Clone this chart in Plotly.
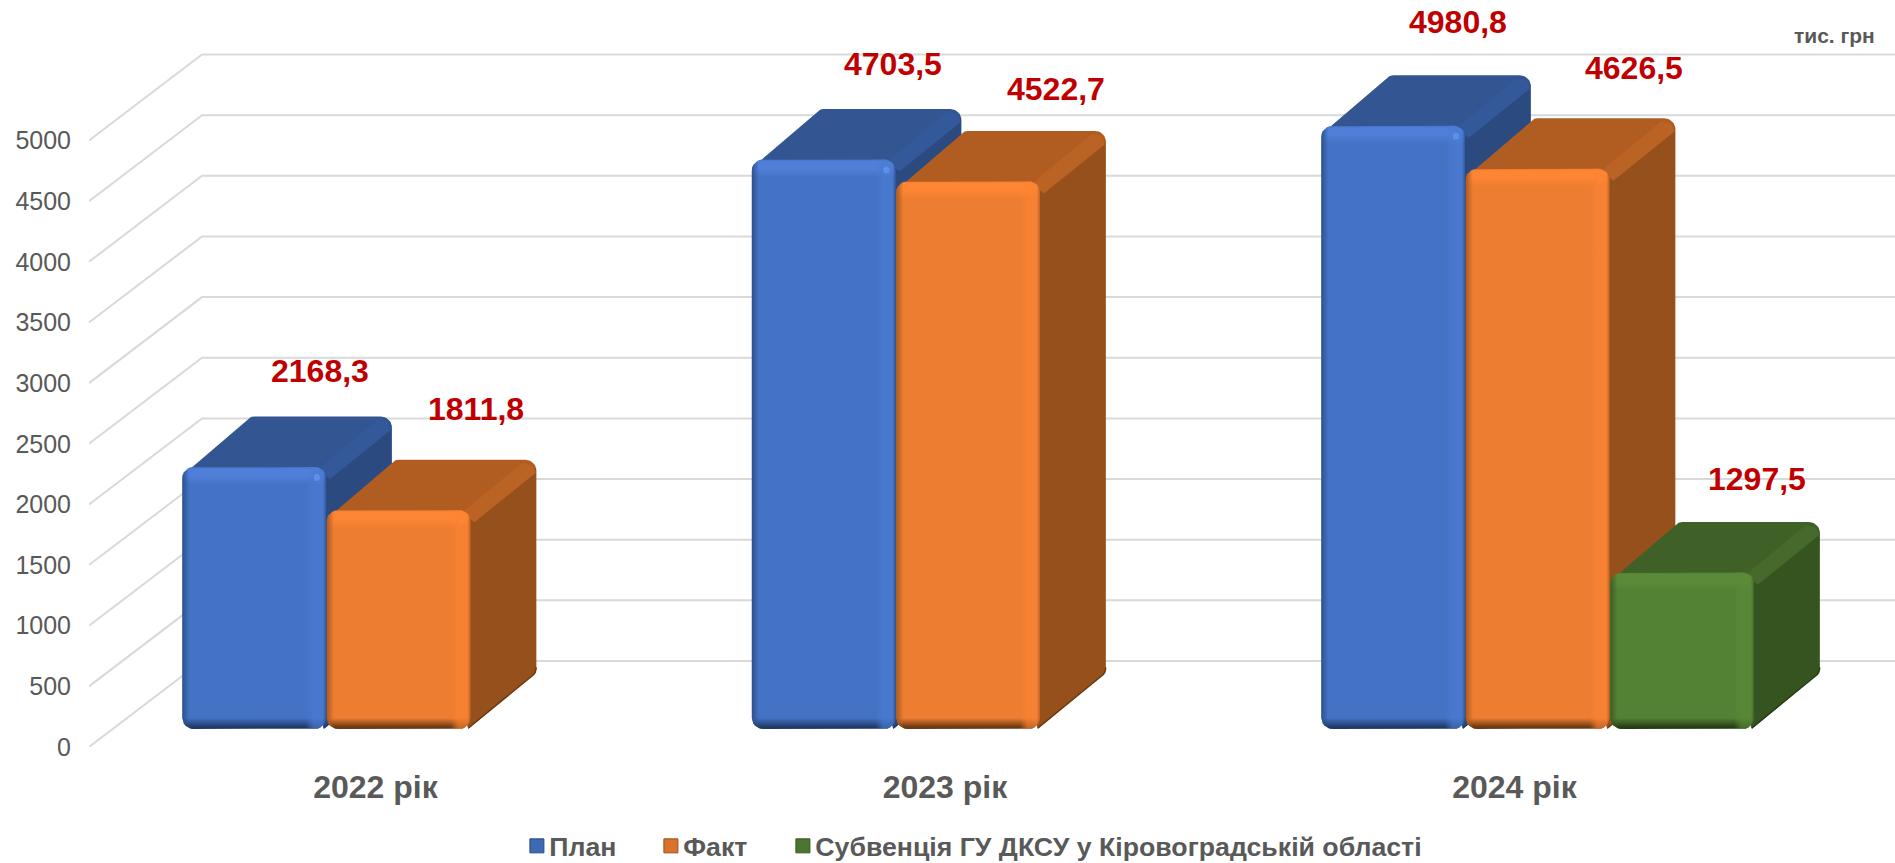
import numpy as np
import plotly.graph_objects as go

# ---------- data ----------
categories = ["2022 рік", "2023 рік", "2024 рік"]
plan = [2168.3, 4703.5, 4980.8]
fact = [1811.8, 4522.7, 4626.5]
subvention = [None, None, 1297.5]
series_names = ["План", "Факт", "Субвенція ГУ ДКСУ у Кіровоградській області"]
y_ticks = [0, 500, 1000, 1500, 2000, 2500, 3000, 3500, 4000, 4500, 5000]
unit_label = "тис. грн"

# ---------- styling / geometry ----------
W, H = 1895, 863
PLOT_L, PLOT_BOTTOM = 89, 747
PX_PER_CAT = 569.5
PX_PER_UNIT = 0.1213
CAT0_PX = 375.4
SLOT, BAR_W = 144.5, 143.5
WALL_DX, WALL_DY = 113, 86          # floor depth in px
BAR_FRONT_DX, BAR_FRONT_DY = 23.7, 18
DEPTH_DX, DEPTH_DY = 66, 50.5       # bar depth in px
R = 11
LEGEND_X_PX = [509.3, 643.3, 775.3]
LEGEND_Y_PX = 846

STYLES = [
    dict(main="#4472C4", top="#335692", side="#2A4A80", ridge="#34599B", edge="#203A68",
         band="#4F7FD8", strip="#4A7CD4", left="#2C4F8C", legend="#3F69B5", hl="#5F8FE8"),
    dict(main="#ED7D31", top="#B15D22", side="#96501C", ridge="#BB6225", edge="#6B3912",
         band="#FD8533", strip="#FB8332", left="#A9581F", legend="#D9722B", hl="#FD8533"),
    dict(main="#548235", top="#3F6127", side="#365420", ridge="#456A2B", edge="#263D14",
         band="#5B8B38", strip="#5A8B37", left="#3A5C24", legend="#4C7630", hl="#5B8B38"),
]
# hand-placed data-label offsets (px from the centre of the bar's front top edge)
LABEL_OFFSETS = [
    [(66, 95), (69, 94), (64.6, 103)],
    [(77, 100), (88, 91), (96.5, 100)],
    [None, None, (75, 93)],
]


def ux(px):
    return px / PX_PER_CAT


def uy(px):
    return px / PX_PER_UNIT


def arc(cx, cy, r, a0, a1, n=7):
    t = np.radians(np.linspace(a0, a1, n))
    return cx + r * np.cos(t), cy + r * np.sin(t)


def rounded_rect(x0, x1, y0, y1, r):
    xs, ys = [], []
    for cx, cy, a0, a1 in [(x1 - r, y1 - r, 0, 90), (x0 + r, y1 - r, 90, 180),
                           (x0 + r, y0 + r, 180, 270), (x1 - r, y0 + r, 270, 360)]:
        ax, ay = arc(cx, cy, r, a0, a1)
        xs += list(ax)
        ys += list(ay)
    return xs + xs[:1], ys + ys[:1]


fig = go.Figure()


def poly(xs, ys, color=None, gradient=None):
    kw = dict(fillgradient=gradient) if gradient else dict(fillcolor=color)
    fig.add_trace(go.Scatter(x=xs, y=ys, mode="lines", fill="toself", line=dict(width=0, color="rgba(0,0,0,0)"),
                             showlegend=False, hoverinfo="skip", **kw))


def draw_bar(center, value, st, slot_index):
    x0 = (slot_index - 1.5) * SLOT + BAR_FRONT_DX
    x1 = x0 + BAR_W
    yb = BAR_FRONT_DY
    yt = yb + value * PX_PER_UNIT - 1
    dx, dy = DEPTH_DX, DEPTH_DY

    def add(pts_x, pts_y, color=None, gradient=None):
        poly([center + ux(p) for p in pts_x], [uy(p) for p in pts_y], color, gradient)

    # side face
    ax1, ay1 = arc(x1 + dx - R, yt + dy - R, R, 30, 0)
    ax2, ay2 = arc(x1 + dx - R, yb + dy + R, R, 0, -40)
    sx = [x1 - 6, x1 + dx - 8] + list(ax1) + list(ax2) + [x1 - 2, x1 - 6]
    sy = [yt - 6, yt + dy - 3] + list(ay1) + list(ay2) + [yb, yb + 12]
    add(sx, sy, st["side"])
    # dark lower edge of the side face
    ex, ey = arc(x1 + dx - R, yb + dy + R, R, -40, 0, 4)
    fig.add_trace(go.Scatter(x=[center + ux(p) for p in [x1 - 2] + list(ex)],
                             y=[uy(p) for p in [yb + 1] + list(ey)],
                             mode="lines", line=dict(color=st["edge"], width=1.5), showlegend=False, hoverinfo="skip"))
    # top face
    ax3, ay3 = arc(x0 + dx + 6, yt + dy - R, R, 130, 90)
    ax4, ay4 = arc(x1 + dx - R, yt + dy - R, R, 90, 30)
    tx = [x0 + 3] + list(ax3) + list(ax4) + [x1 + dx - 1, x1, x1 - 10, x0 + 3]
    ty = [yt - 6] + list(ay3) + list(ay4) + [yt + dy - 12, yt - 10, yt - 4, yt - 6]
    add(tx, ty, st["top"])
    # ridge between top and side
    add([x1 - 8, x1 + dx - 14, x1 + dx - 5, x1 + dx - 0.5, x1 + 4],
        [yt - 2, yt + dy - 3, yt + dy - 5, yt + dy - 13, yt - 12], st["ridge"])

    # front face: vertical gradient
    fx, fy = rounded_rect(x0, x1, yb, yt, R)
    h = yt - yb
    w = x1 - x0
    s = lambda p: float(np.clip(p / h, 0, 1))
    gy = dict(type="vertical", colorscale=[
        [0, st["edge"]], [s(2), st["edge"]], [s(11), st["main"]],
        [s(h - 18), st["main"]], [s(h - 9), st["band"]], [s(h - 2), st["band"]], [1, st["main"]]])
    add(fx, fy, gradient=gy)
    # front face: horizontal bevel overlay
    q = lambda p: float(np.clip(p / w, 0, 1))
    rgba = lambda c, a: "rgba(%d,%d,%d,%.2f)" % (int(c[1:3], 16), int(c[3:5], 16), int(c[5:7], 16), a)
    gx = dict(type="horizontal", colorscale=[
        [0, rgba(st["left"], 0.95)], [q(7), rgba(st["left"], 0.0)],
        [q(w - 20), rgba(st["strip"], 0.0)], [q(w - 12), rgba(st["strip"], 0.65)],
        [q(w - 3), rgba(st["strip"], 0.65)], [1, rgba(st["left"], 0.7)]])
    add(fx, fy, gradient=gx)
    # small corner highlight
    hx, hy = rounded_rect(x1 - 12, x1 - 6, yt - 14, yt - 7, 2.5)
    add(hx, hy, st["hl"])


# ---- walls and floor grid ----
x_left = -(CAT0_PX - PLOT_L) / PX_PER_CAT
x_right = (W - CAT0_PX) / PX_PER_CAT
gx, gy = [], []
for t in y_ticks:
    gx += [x_left, x_left + ux(WALL_DX), x_right, None]
    gy += [t, t + uy(WALL_DY), t + uy(WALL_DY), None]
fig.add_trace(go.Scatter(x=gx, y=gy, mode="lines", line=dict(color="#D9D9D9", width=2),
                         showlegend=False, hoverinfo="skip"))

# ---- bars ----
all_series = [plan, fact, subvention]
annotations = []
for ci in range(len(categories)):
    for si, vals in enumerate(all_series):
        v = vals[ci]
        if v is None:
            continue
        draw_bar(ci, v, STYLES[si], si)
for si, vals in enumerate(all_series):
    for ci, v in enumerate(vals):
        if v is None:
            continue
        off = LABEL_OFFSETS[si][ci]
        bar_cx = ci + ux((si - 1.5) * SLOT + BAR_FRONT_DX + BAR_W / 2)
        annotations.append(dict(
            x=bar_cx, y=v + uy(BAR_FRONT_DY), xref="x", yref="y",
            text=f"{v:.1f}".replace(".", ","), showarrow=False,
            xshift=off[0], yshift=off[1], xanchor="center", yanchor="middle",
            font=dict(family="Liberation Sans", size=32, color="#C00000", weight="bold")))

annotations.append(dict(x=(1834 - PLOT_L) / (W - PLOT_L), y=1 - 36 / H, xref="paper", yref="paper",
                        text=unit_label, showarrow=False, xanchor="center", yanchor="middle",
                        font=dict(family="Liberation Sans", size=21, color="#595959", weight="bold")))

# ---- legend entries: one positioned legend per series ----
legend_font = dict(family="Liberation Sans", size=26.7, color="#595959", weight="bold")
legend_layout = {}
for i, (name, st) in enumerate(zip(series_names, STYLES)):
    key = "legend" if i == 0 else f"legend{i + 1}"
    fig.add_trace(go.Scatter(x=[None], y=[None], mode="markers", name=name, legend=key,
                             marker=dict(symbol="square", size=14, color=st["legend"],
                                         line=dict(color=st["side"], width=1)),
                             hoverinfo="skip"))
    legend_layout[key] = dict(x=(LEGEND_X_PX[i] - PLOT_L) / (W - PLOT_L), xanchor="left",
                              y=1 - LEGEND_Y_PX / H, yanchor="middle", orientation="h", font=legend_font,
                              itemclick=False, itemdoubleclick=False, bgcolor="rgba(0,0,0,0)")

fig.update_layout(
    width=W, height=H,
    margin=dict(l=PLOT_L, r=0, t=0, b=0, pad=0, autoexpand=False),
    paper_bgcolor="white", plot_bgcolor="rgba(0,0,0,0)",
    annotations=annotations,
    xaxis=dict(range=[x_left, x_right], tickmode="array", tickvals=list(range(len(categories))),
               ticktext=categories, showgrid=False, zeroline=False, showline=False, ticks="",
               ticklabelstandoff=18,
               tickfont=dict(family="Liberation Sans", size=32, color="#595959", weight="bold")),
    yaxis=dict(domain=[(H - PLOT_BOTTOM) / H, 1], range=[0, PLOT_BOTTOM / PX_PER_UNIT], tickmode="array",
               tickvals=y_ticks, showgrid=False, zeroline=False, showline=False, ticks="", ticklabelstandoff=17,
               tickfont=dict(family="Liberation Sans", size=25, color="#595959")),
    **legend_layout,
)

fig.write_html("out.html", config=dict(displayModeBar=False),
               post_script="document.body.style.margin='0';"
                           "document.querySelectorAll('.legendpoints').forEach("
                           "function(g){g.setAttribute('transform','translate(7.6,0)');});")
